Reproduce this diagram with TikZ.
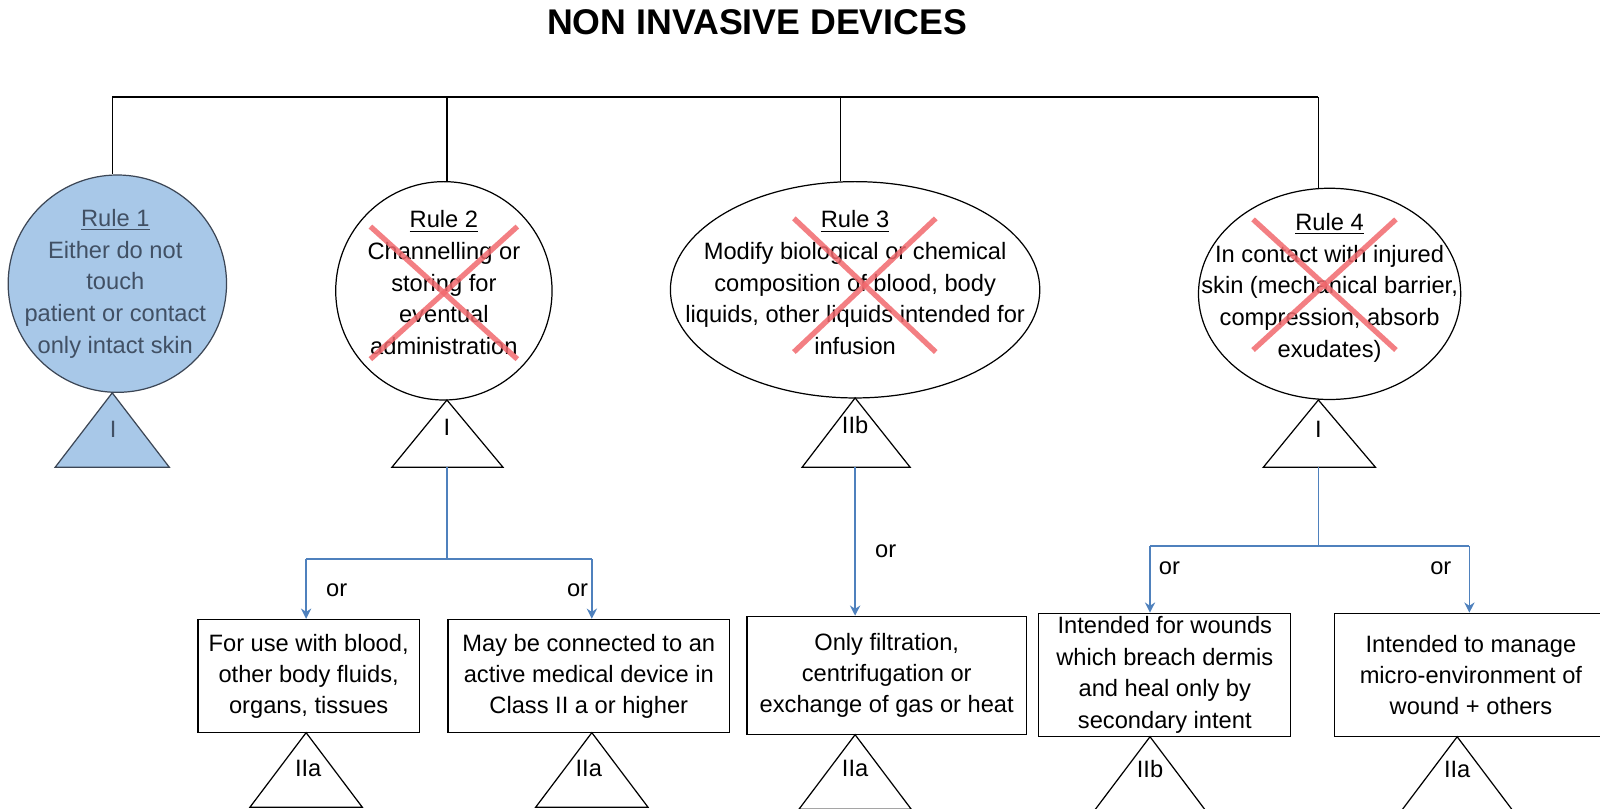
\documentclass[tikz,border=0pt]{standalone}
\usepackage{fontspec}
\setmainfont{Liberation Sans}
\usetikzlibrary{shapes.geometric,arrows.meta}
\definecolor{rfill}{RGB}{168,200,232}
\definecolor{rline}{RGB}{60,70,85}
\definecolor{rtext}{RGB}{65,80,100}
\definecolor{conn}{RGB}{79,129,189}
\definecolor{xred}{RGB}{242,105,110}
\tikzset{
  rule/.style={ellipse, draw=black, line width=0.6pt, inner sep=0pt},
  ruletext/.style={align=center, font=\fontsize{11.6}{15.5}\selectfont},
  box/.style={draw=black, line width=0.6pt, inner sep=0pt, align=center, font=\fontsize{11.6}{15.25}\selectfont},
  cls/.style={font=\fontsize{11.6}{14}\selectfont},
  ortext/.style={font=\fontsize{11.6}{14}\selectfont},
  bar/.style={draw=black, line width=0.6pt},
  conn/.style={draw=conn, line width=0.8pt},
  connarrow/.style={draw=conn, line width=0.8pt, -{Stealth[length=5pt,width=5pt]}},
  cross/.style={draw=xred, opacity=0.85, line width=2.6pt},
  tri/.style={draw=black, line width=0.6pt, line join=miter}
}
\begin{document}
\begin{tikzpicture}[x=0.5pt,y=-0.5pt]
\useasboundingbox (0,0) rectangle (1568,792);
\clip (0,0) rectangle (1568,792);
\fill[white] (0,0) rectangle (1568,792);

% title
\node[font=\bfseries\fontsize{17.5}{20}\selectfont] (title) at (742,22) {NON INVASIVE DEVICES};

% rule ellipses
\node[rule, fill=rfill, draw=rline, minimum width=107pt, minimum height=106.5pt] (c1) at (115,278) {};
\node[rule, minimum width=106pt, minimum height=107pt] (c2) at (435,285) {};
\node[rule, minimum width=181pt, minimum height=106pt] (c3) at (838,284) {};
\node[rule, minimum width=128.5pt, minimum height=103.5pt] (c4) at (1303,288) {};

% top bar
\coordinate (b1) at (110,95);
\coordinate (b2) at (438,95);
\coordinate (b3) at (824,95);
\coordinate (b4) at (1292,95);
\draw[bar] (b1) -- (b4);
\draw[bar] (b1) -- (b1 |- c1.north);
\draw[bar] (b2) -- (b2 |- c2.north);
\draw[bar] (b3) -- (b3 |- c3.north);
\draw[bar] (b4) -- (b4 |- c4.north);

% rule texts
\node[ruletext, text=rtext] (c1t) at (113,278) {\underline{Rule 1}\\Either do not\\touch\\patient or contact\\only intact skin};
\node[ruletext] (c2t) at (435,277) {\underline{Rule 2}\\Channelling or\\storing for\\eventual\\administration};
\node[ruletext] (c3t) at (838,277) {\underline{Rule 3}\\Modify biological or chemical\\composition of blood, body\\liquids, other liquids intended for\\infusion};
\node[ruletext] (c4t) at (1303,282) {\underline{Rule 4}\\In contact with injured\\skin (mechanical barrier,\\compression, absorb\\exudates)};

% crosses
\draw[cross] (363,222) -- (507,352);
\draw[cross] (507,222) -- (363,352);
\draw[cross] (778,214) -- (917,345);
\draw[cross] (917,214) -- (778,345);
\draw[cross] (1228,215) -- (1368,343);
\draw[cross] (1368,215) -- (1228,343);

% class triangles under rules
\coordinate (t1a) at (110,385);
\coordinate (t2a) at (438,392);
\coordinate (t3a) at (838,390);
\coordinate (t4a) at (1292,392);
\coordinate (t1b) at (110,458);
\coordinate (t2b) at (438,458);
\coordinate (t3b) at (838,458);
\coordinate (t4b) at (1292,458);
\draw[tri, fill=rfill, draw=rline] (t1a) -- (54,458) -- (166,458) -- cycle;
\draw[tri] (t2a) -- (384,458) -- (493,458) -- cycle;
\draw[tri] (t3a) -- (786,458) -- (892,458) -- cycle;
\draw[tri] (t4a) -- (1238,458) -- (1348,458) -- cycle;
\node[cls, text=rtext] (k1) at (111,421) {I};
\node[cls] (k2) at (438,419) {I};
\node[cls] (k3) at (838,417) {IIb};
\node[cls] (k4) at (1292,421) {I};

% boxes
\node[box, minimum width=108.5pt, minimum height=55.5pt] (bx1) at (302.5,662.5) {For use with blood,\\other body fluids,\\organs, tissues};
\node[box, minimum width=138pt, minimum height=55.5pt] (bx2) at (577,662.5) {May be connected to an\\active medical device in\\Class II a or higher};
\node[box, minimum width=137pt, minimum height=58pt] (bx3) at (869,662) {Only filtration,\\centrifugation or\\exchange of gas or heat};
\node[box, minimum width=123.5pt, minimum height=60.5pt, font=\fontsize{11.6}{15.4}\selectfont] (bx4) at (1141.5,661.5) {Intended for wounds\\which breach dermis\\and heal only by\\secondary intent};
\node[box, minimum width=133.5pt, minimum height=60.5pt] (bx5) at (1441.5,661.5) {Intended to manage\\micro-environment of\\wound + others};

% blue connectors
\coordinate (j2) at (438,548);
\coordinate (a21) at (300,548);
\coordinate (a22) at (580,548);
\draw[conn] (t2b) -- (j2);
\draw[conn] (a21) -- (a22);
\draw[connarrow] (a21) -- (a21 |- bx1.north);
\draw[connarrow] (a22) -- (a22 |- bx2.north);
\draw[connarrow] (t3b) -- (t3b |- bx3.north);
\coordinate (j4) at (1292,535);
\coordinate (a41) at (1127,535);
\coordinate (a42) at (1440,535);
\draw[conn] (t4b) -- (j4);
\draw[conn] (a41) -- (a42);
\draw[connarrow] (a41) -- (a41 |- bx4.north);
\draw[connarrow] (a42) -- (a42 |- bx5.north);

\node[ortext] (o1) at (330,578) {or};
\node[ortext] (o2) at (566,578) {or};
\node[ortext] (o3) at (868,540) {or};
\node[ortext] (o4) at (1146,557) {or};
\node[ortext] (o5) at (1412,557) {or};

% bottom class triangles
\coordinate (u1) at (300,718);
\coordinate (u2) at (580,718);
\coordinate (u3) at (838,720);
\coordinate (u4) at (1127,722);
\coordinate (u5) at (1428,722);
\foreach \u in {u1,u2,u3,u4,u5}{
  \draw[tri] (\u) -- ++(-55,73) -- ++(110,0) -- cycle;
}
\node[cls] (m1) at (302,753) {IIa};
\node[cls] (m2) at (577,753) {IIa};
\node[cls] (m3) at (838,753) {IIa};
\node[cls] (m4) at (1127,754) {IIb};
\node[cls] (m5) at (1428,754) {IIa};
\end{tikzpicture}
\end{document}
